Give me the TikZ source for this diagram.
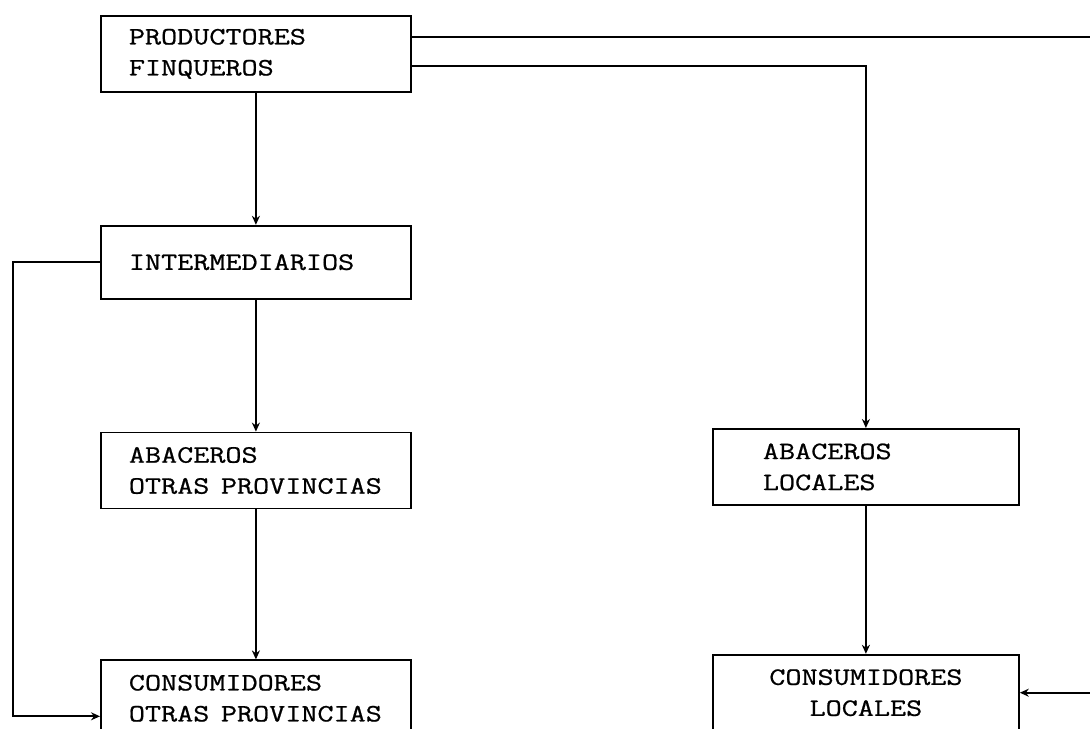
\documentclass[tikz,border=0pt]{standalone}
\usepackage{fontspec}
\setmonofont{Latin Modern Mono}[FakeStretch=1.25,FakeBold=0.8]
\usetikzlibrary{arrows.meta}
\usetikzlibrary{positioning}

\begin{document}
\begin{tikzpicture}[x=0.5pt,y=-0.5pt,line width=0.9pt,>={Stealth[length=4.5pt,width=4pt]}]
	\tikzset{
		B/.style={draw,minimum width=155pt,minimum height=38pt,text width=127pt,inner xsep=14pt,align=left,
			font=\fontsize{12.5pt}{15.5pt}\selectfont\ttfamily},
	}
	\useasboundingbox (0,0) rectangle (1090,728);
	\clip (0,0) rectangle (1090,728);
	
	\node[B,anchor=north west] (prod) at (100,15) {PRODUCTORES\\ FINQUEROS};
	\node[B,below=66pt of prod,minimum height=36.5pt] (inter) {INTERMEDIARIOS};
	\node[B,below=66pt of inter] (abop) {ABACEROS\\ OTRAS\ \kern1.6pt PROVINCIAS};
	\node[B,below=75pt of abop] (coop) {CONSUMIDORES\\ OTRAS\ \kern1.6pt PROVINCIAS};
	\node[B,anchor=north west,minimum width=153pt,text width=103pt,inner xsep=25pt] (abloc) at (712,428) {ABACEROS\\ LOCALES};
	\node[B,below=74pt of abloc,minimum width=153pt,text width=103pt,inner xsep=25pt,align=center] (coloc) {CONSUMIDORES\\ LOCALES};
	
	\coordinate (rim) at (1120,360);
	\coordinate (loop) at (13,0);
	
	\path[->]
	(prod) edge (inter)
	(inter) edge (abop)
	(abop) edge (coop)
	(abloc) edge (coloc);
	\draw[->] ([yshift=-6pt]prod.east) -| (abloc.north);
	\draw[->] ([yshift=8.5pt]prod.east) -| (rim) |- (coloc.east);
	\draw[->] (inter.west) -- (inter.west -| loop) |- ([yshift=-9pt]coop.west);
\end{tikzpicture}
\end{document}
